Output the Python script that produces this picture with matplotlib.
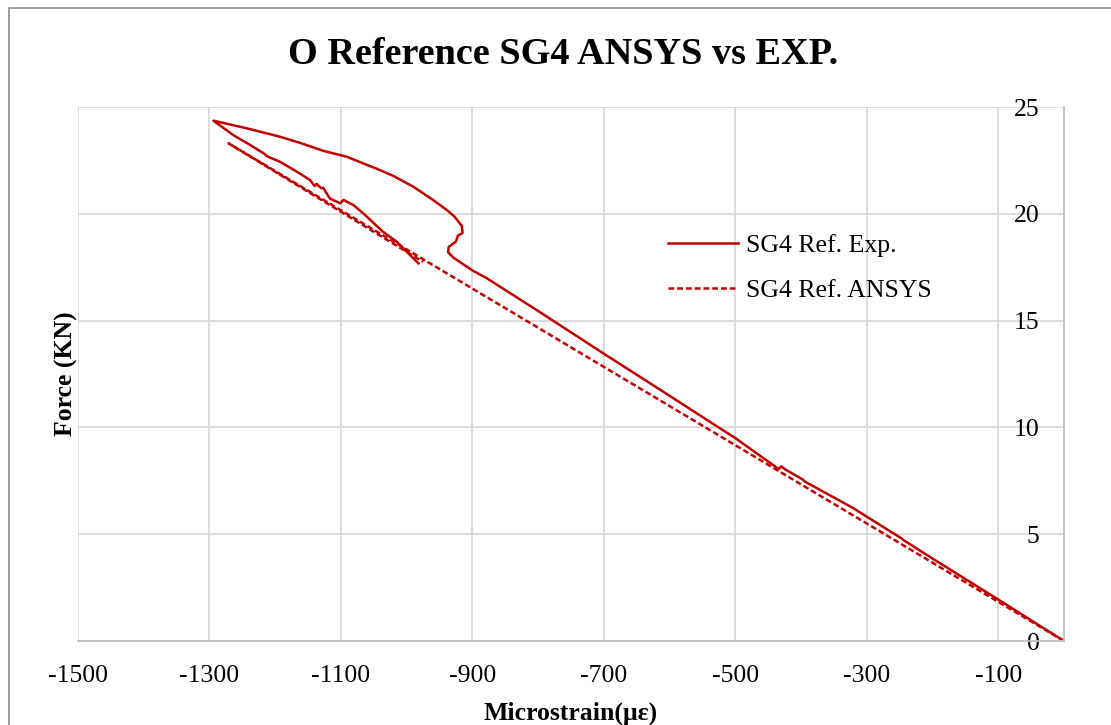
import matplotlib
matplotlib.use("Agg")
import matplotlib.pyplot as plt
from matplotlib.patches import Rectangle

# Experimental strain-gauge record: loading, hook, upper branch to peak, unloading
exp_strain = [0, -50, -100, -150, -200, -243, -247, -300, -320, -394, -397,
              -425, -430, -434, -500, -523, -600, -700, -800, -878,
              -900, -929, -937, -936, -925, -922, -915, -916, -927, -939,
              -960, -990, -1020, -1041, -1091, -1127, -1160, -1193, -1243, -1294,
              -1264, -1238, -1216, -1213, -1193, -1167, -1147, -1140, -1137,
              -1130, -1127, -1117, -1101, -1096, -1090, -1081, -1066, -1036,
              -1015, -990, -982]
exp_force = [0, 0.97, 1.94, 2.90, 3.86, 4.70, 4.80, 5.82, 6.21, 7.46, 7.55,
             8.05, 8.18, 8.05, 9.50, 9.95, 11.48, 13.45, 15.45, 16.98,
             17.35, 17.95, 18.20, 18.45, 18.70, 18.98, 19.10, 19.43, 19.86, 20.18,
             20.65, 21.27, 21.77, 22.05, 22.67, 22.95, 23.30, 23.61, 24.00, 24.36,
             23.69, 23.22, 22.80, 22.70, 22.44, 21.97, 21.58, 21.30, 21.40,
             21.20, 21.22, 20.72, 20.49, 20.65, 20.55, 20.41, 20.02, 19.16,
             18.69, 17.92, 17.68]

# ANSYS prediction
ansys_strain = [0, -1271, -975]
ansys_force = [0, 23.3, 17.75]

x_ticks = [-1500, -1300, -1100, -900, -700, -500, -300, -100]
y_ticks = [0, 5, 10, 15, 20, 25]

red = "#C00000"
serif = ["Liberation Serif", "DejaVu Serif"]
plt.rcParams["axes.unicode_minus"] = False

fig = plt.figure(figsize=(11.11, 7.25), dpi=100)
fig.patch.set_facecolor("white")
fig.patches.append(Rectangle((9 / 1111, -0.1), 1.2, 1 - 8 / 725 + 0.1,
                             transform=fig.transFigure, fill=False,
                             edgecolor="#8C8C8C", lw=1.2))

ax = fig.add_axes([78 / 1111, 1 - 641 / 725, (1064 - 78) / 1111, (641 - 107) / 725])
ax.plot(exp_strain, exp_force, color=red, lw=1.8, label="SG4 Ref. Exp.",
        solid_joinstyle="round")
ax.plot(ansys_strain, ansys_force, color=red, lw=1.8, dashes=(2.3, 1.2),
        label="SG4 Ref. ANSYS")

ax.set_xlim(-1500, 0)
ax.set_ylim(0, 25)
ax.set_xticks(x_ticks)
ax.set_yticks(y_ticks)
ax.grid(True, color="#D9D9D9", lw=1.3)
ax.set_axisbelow(True)
for s in ("top", "left"):
    ax.spines[s].set_visible(False)
for s in ("bottom", "right"):
    ax.spines[s].set_color("#BFBFBF")
    ax.spines[s].set_linewidth(1.3)

ax.yaxis.tick_right()
ax.tick_params(axis="y", length=0, pad=-17.5, labelsize=18.5)
ax.tick_params(axis="x", length=0, pad=17, labelsize=18.5)
for lab in ax.get_yticklabels():
    lab.set_horizontalalignment("right")
    lab.set_family(serif)
for lab in ax.get_xticklabels():
    lab.set_family(serif)

ax.set_xlabel("Microstrain(με)", family=serif, fontsize=18.5, fontweight="bold",
              labelpad=11)
ax.set_ylabel("Force (KN)", family=serif, fontsize=18.5, fontweight="bold",
              labelpad=0)
ax.yaxis.set_label_position("left")

fig.suptitle("O Reference SG4 ANSYS vs EXP.", family=serif, fontsize=27.5,
             fontweight="bold", x=563 / 1111, y=1 - 54 / 725, va="center")

leg = ax.legend(loc="upper left", bbox_to_anchor=((645 - 78) / 986, (641 - 211) / 534),
                frameon=False, prop={"family": serif, "size": 18.5},
                handlelength=2.7, handletextpad=0.35, labelspacing=0.85)

fig.savefig("out.png", dpi=100, facecolor="white")
